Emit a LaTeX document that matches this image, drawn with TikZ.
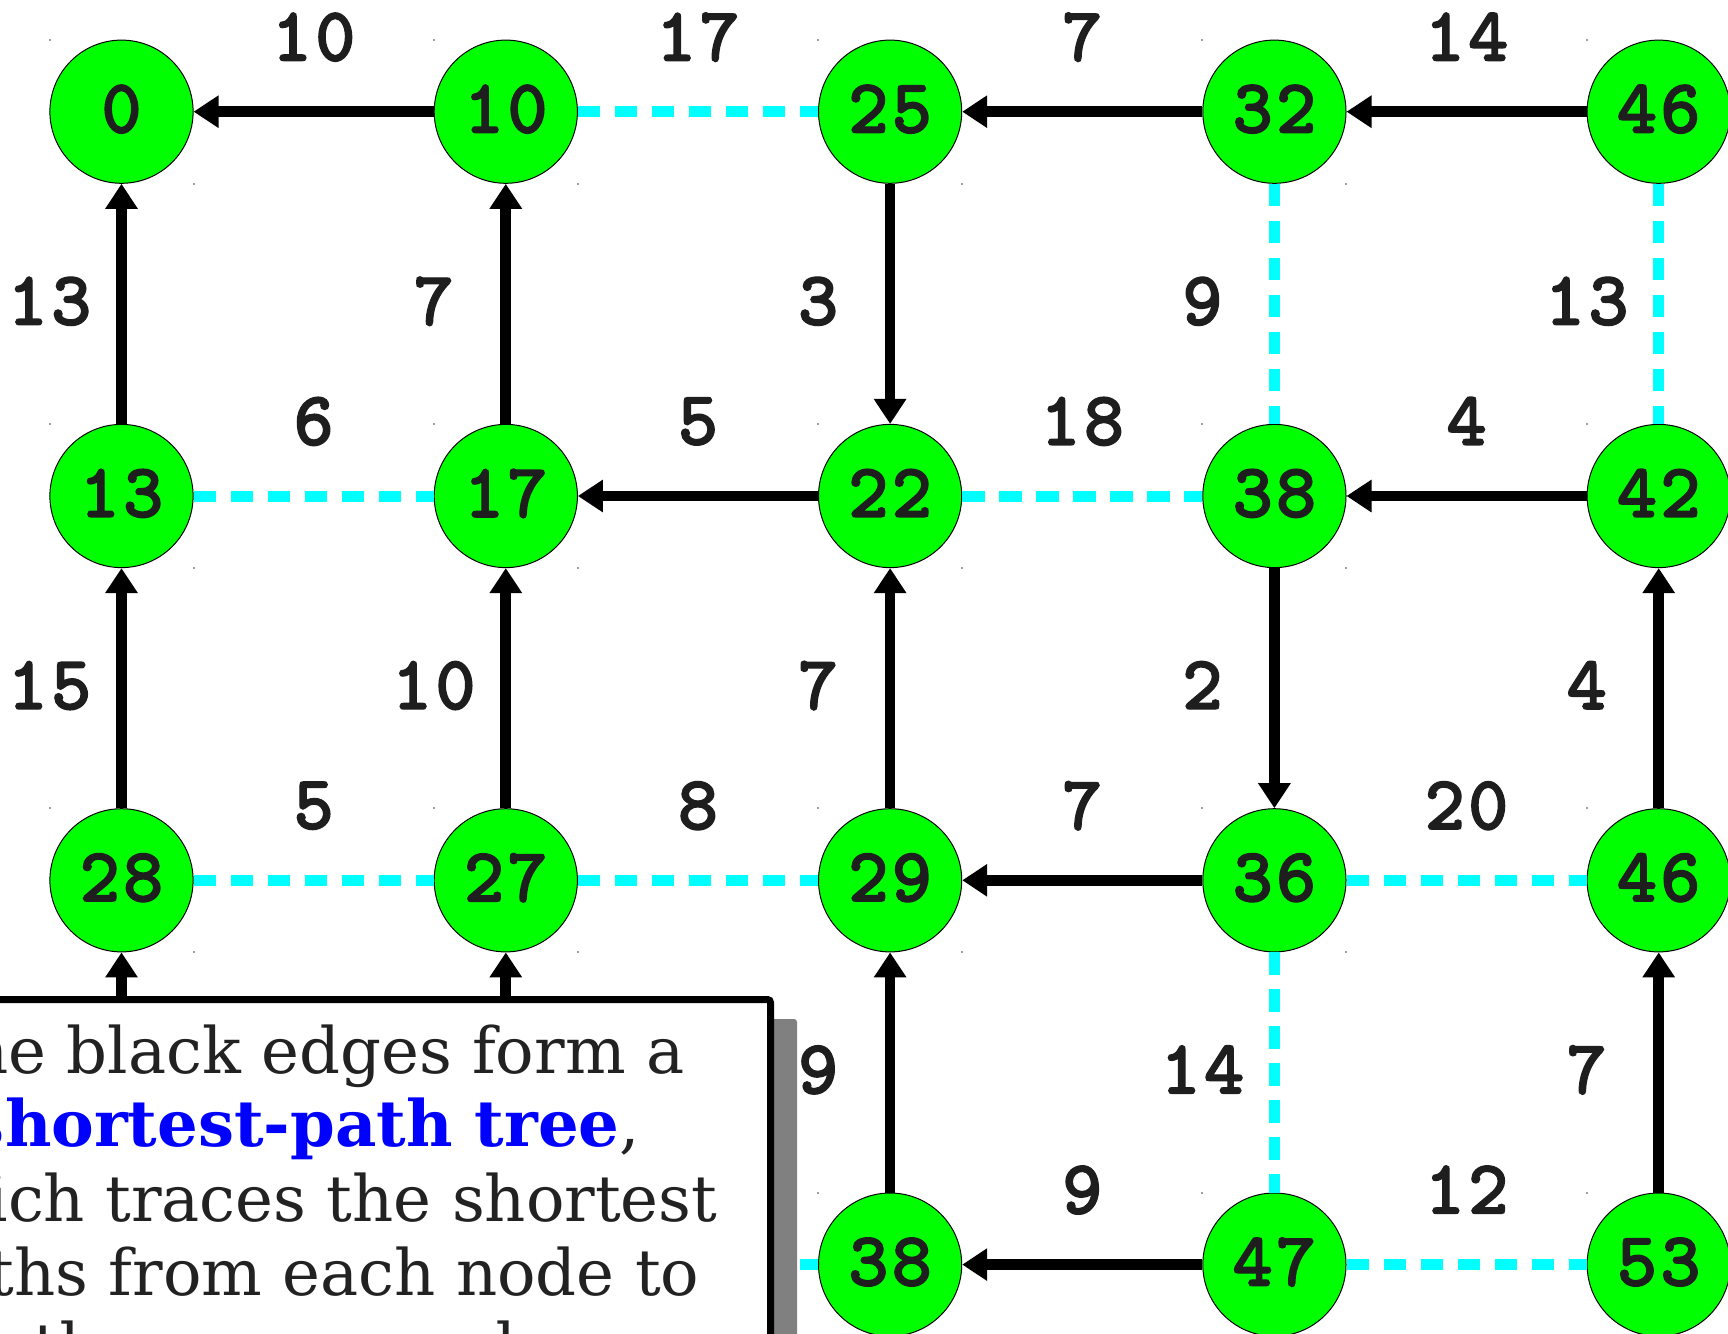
\documentclass[tikz,border=0pt]{standalone}
\usepackage{fontspec}
\usetikzlibrary{arrows.meta}
\newfontfamily\boxfont{DejaVu Serif}
\newfontfamily\numfont{lmmonolt10-bold.otf}[FakeBold=1.6, LetterSpace=4]
\definecolor{nodegreen}{HTML}{00FF00}
\definecolor{edgecyan}{HTML}{00FFFF}
\definecolor{ink}{HTML}{1E1E1E}
\definecolor{boxink}{HTML}{222222}
\definecolor{shadowgray}{HTML}{808080}
\definecolor{dotgray}{HTML}{A0A0A0}
\tikzset{
  vert/.style={circle, draw=black, line width=0.5pt, fill=nodegreen,
    minimum size=71.6pt, inner sep=0pt, text=ink, text depth=3pt,
    font=\numfont\fontsize{38.5}{40}\selectfont},
  hiddenvert/.style={circle, minimum size=71.6pt, inner sep=0pt},
  tree/.style={line width=5.35pt, draw=black, -{Triangle[length=12.5pt,width=15.5pt]}},
  nontree/.style={line width=5.5pt, draw=edgecyan, dash pattern=on 11.25pt off 7.25pt},
  lab/.style={inner sep=0pt, text=ink, text depth=3pt, font=\numfont\fontsize{38.5}{40}\selectfont},
  hl/.style={lab, yshift=36pt},
  vl/.style={lab, xshift=-36pt},
  boxtext/.style={inner sep=0pt, anchor=base, text=boxink, font=\boxfont\fontsize{32}{37}\selectfont},
}
\begin{document}
\begin{tikzpicture}[x=0.5pt,y=-0.5pt]
\useasboundingbox (0,0) rectangle (1728,1333);
\clip (0,0) rectangle (1728,1333);
% nodes
\node[vert] (n00) at (121.5,111.7) {0};
\node[vert] (n01) at (505.8,111.7) {10};
\node[vert] (n02) at (890.1,111.7) {25};
\node[vert] (n03) at (1274.4,111.7) {32};
\node[vert] (n04) at (1658.7,111.7) {46};
\node[vert] (n10) at (121.5,496) {13};
\node[vert] (n11) at (505.8,496) {17};
\node[vert] (n12) at (890.1,496) {22};
\node[vert] (n13) at (1274.4,496) {38};
\node[vert] (n14) at (1658.7,496) {42};
\node[vert] (n20) at (121.5,880.3) {28};
\node[vert] (n21) at (505.8,880.3) {27};
\node[vert] (n22) at (890.1,880.3) {29};
\node[vert] (n23) at (1274.4,880.3) {36};
\node[vert] (n24) at (1658.7,880.3) {46};
\node[hiddenvert] (h30) at (121.5,1264.6) {};
\node[hiddenvert] (h31) at (505.8,1264.6) {};
\node[vert] (n32) at (890.1,1264.6) {38};
\node[vert] (n33) at (1274.4,1264.6) {47};
\node[vert] (n34) at (1658.7,1264.6) {53};
% corner dots
\foreach \x in {121.5,505.8,890.1,1274.4,1658.7}
  \foreach \y in {111.7,496,880.3,1264.6} {
    \fill[dotgray] (\x-73,\y-73) rectangle +(2,2);
    \fill[dotgray] (\x+71,\y+71) rectangle +(2,2);
  }
% row 0
\draw[tree] (n01) -- node[hl] {10} (n00);
\draw[nontree] (n01) -- node[hl] {17} (n02);
\draw[tree] (n03) -- node[hl] {7} (n02);
\draw[tree] (n04) -- node[hl] {14} (n03);
% rows 0-1
\draw[tree] (n10) -- node[vl] {13} (n00);
\draw[tree] (n11) -- node[vl] {7} (n01);
\draw[tree] (n02) -- node[vl] {3} (n12);
\draw[nontree] (n03) -- node[vl] {9} (n13);
\draw[nontree] (n04) -- node[vl] {13} (n14);
% row 1
\draw[nontree] (n10) -- node[hl] {6} (n11);
\draw[tree] (n12) -- node[hl] {5} (n11);
\draw[nontree] (n12) -- node[hl] {18} (n13);
\draw[tree] (n14) -- node[hl] {4} (n13);
% rows 1-2
\draw[tree] (n20) -- node[vl] {15} (n10);
\draw[tree] (n21) -- node[vl] {10} (n11);
\draw[tree] (n22) -- node[vl] {7} (n12);
\draw[tree] (n13) -- node[vl] {2} (n23);
\draw[tree] (n24) -- node[vl] {4} (n14);
% row 2
\draw[nontree] (n20) -- node[hl] {5} (n21);
\draw[nontree] (n21) -- node[hl] {8} (n22);
\draw[tree] (n23) -- node[hl] {7} (n22);
\draw[nontree] (n23) -- node[hl] {20} (n24);
% rows 2-3
\draw[tree] (h30) -- (n20);
\draw[tree] (h31) -- (n21);
\draw[tree] (n32) -- node[vl] {9} (n22);
\draw[nontree] (n23) -- node[vl] {14} (n33);
\draw[tree] (n34) -- node[vl] {7} (n24);
% row 3
\draw[nontree] (h31) -- (n32);
\draw[tree] (n33) -- node[hl] {9} (n32);
\draw[nontree] (n33) -- node[hl] {12} (n34);
% caption box
\fill[shadowgray, rounded corners=1.5pt] (-100,1019) rectangle (797,1400);
\draw[fill=white, line width=3.5pt, rounded corners=1.5pt] (-100,999.5) rectangle (770.5,1400);
\node[boxtext] (tl1) at (304.5,1073.3) {The black edges form a};
\node[boxtext] (tl2) at (304.5,1146.7) {\textcolor{blue}{\bfseries shortest-path tree},};
\node[boxtext] (tl3) at (304.5,1221.7) {which traces the shortest};
\node[boxtext] (tl4) at (304.5,1295) {paths from each node to};
\node[boxtext] (tl5) at (304.5,1369) {the source node.};
\end{tikzpicture}
\end{document}
